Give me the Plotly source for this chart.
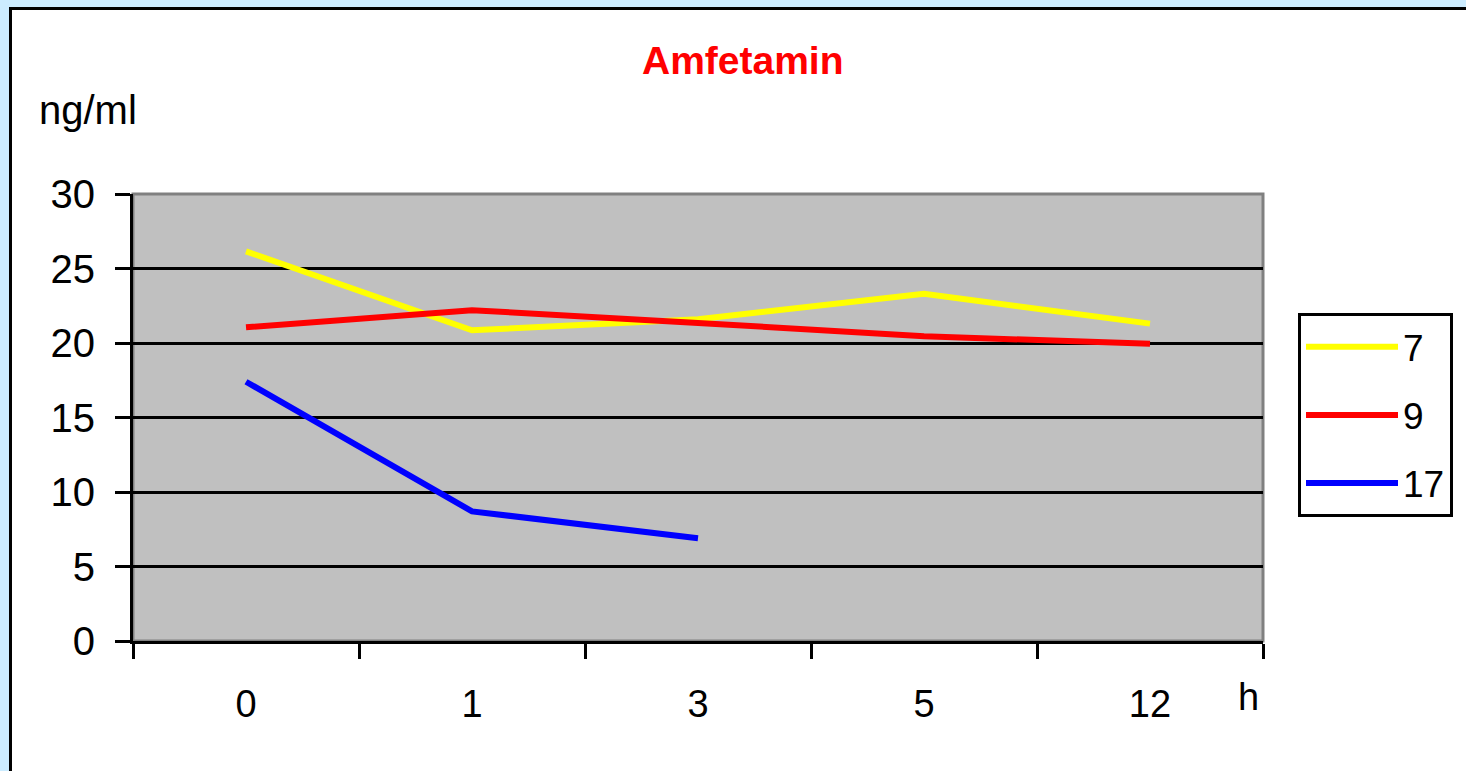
import plotly.graph_objects as go

categories = ["0", "1", "3", "5", "12"]
series_names = ["7", "9", "17"]
values_7 = [26.15, 20.85, 21.6, 23.3, 21.3]
values_9 = [21.05, 22.2, 21.35, 20.45, 19.95]
values_17 = [17.4, 8.7, 6.9, None, None]
colors = ["#FFFF00", "#FF0000", "#0000FF"]
y_ticks = [0, 5, 10, 15, 20, 25, 30]

W, H = 1466, 771
L, R, T, B = 133, 1263, 193.5, 641.5
pw, ph = R - L, B - T


def px(x):
    return (x - L) / pw


def py(y):
    return (B - y) / ph


fig = go.Figure()
for name, vals, col in zip(series_names, [values_7, values_9, values_17], colors):
    fig.add_trace(go.Scatter(
        x=categories, y=vals, name=name, mode="lines",
        line=dict(color=col, width=6), legendgroup=name,
        connectgaps=False, hoverinfo="skip",
    ))

font = "Liberation Sans, Arial, sans-serif"

fig.update_layout(
    width=W, height=H,
    margin=dict(l=L, r=W - R, t=T, b=H - B, pad=0),
    paper_bgcolor="#CCECFF",
    plot_bgcolor="#C0C0C0",
    showlegend=True,
    legend=dict(
        x=px(1298), y=py(313), xanchor="left", yanchor="top",
        bgcolor="white", bordercolor="black", borderwidth=3,
        font=dict(family=font, size=37, color="black"),
        tracegroupgap=17, itemwidth=92,
    ),
    xaxis=dict(
        type="category", range=[-0.5, 4.5], tickson="boundaries",
        ticks="outside", ticklen=15, tickwidth=3, tickcolor="black",
        showline=True, linecolor="black", linewidth=3,
        showgrid=False, zeroline=False,
        tickfont=dict(family=font, size=38, color="black"),
        ticklabelstandoff=27,
    ),
    yaxis=dict(
        range=[0, 30], tickvals=y_ticks, ticktext=[str(v) for v in y_ticks],
        ticks="outside", ticklen=15, tickwidth=3, tickcolor="black",
        showline=True, linecolor="black", linewidth=3,
        showgrid=True, gridcolor="black", gridwidth=3, zeroline=False,
        tickfont=dict(family=font, size=40, color="black"),
        ticklabelstandoff=12,
    ),
    shapes=[
        dict(type="rect", xref="paper", yref="paper",
             x0=px(10.5), x1=px(W + 20), y0=py(H + 20), y1=py(7.5),
             line=dict(color="black", width=3), fillcolor="white", layer="below"),
        dict(type="rect", xref="paper", yref="paper",
             x0=0, x1=1, y0=0, y1=1,
             line=dict(color="#808080", width=3), fillcolor="#C0C0C0", layer="below"),
    ],
    annotations=[
        dict(text="<b>Amfetamin</b>", xref="paper", yref="paper",
             x=px(743), y=py(60), xanchor="center", yanchor="middle",
             showarrow=False, font=dict(family=font, size=39, color="#FF0000")),
        dict(text="ng/ml", xref="paper", yref="paper",
             x=px(37), y=py(109), xanchor="left", yanchor="middle",
             showarrow=False, font=dict(family=font, size=40, color="black")),
        dict(text="h", xref="paper", yref="paper",
             x=px(1248), y=py(698), xanchor="center", yanchor="middle",
             showarrow=False, font=dict(family=font, size=38, color="black")),
    ],
)

fig.write_html(
    "out.html",
    config={"displayModeBar": False},
    post_script="document.body.style.margin='0';document.body.style.overflow='hidden';",
)
